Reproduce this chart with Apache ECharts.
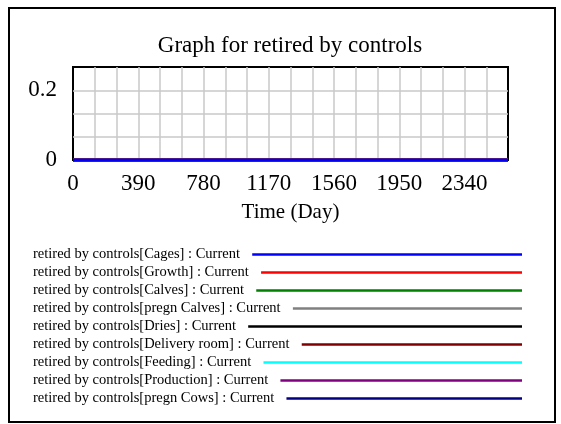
<!DOCTYPE html>
<html>
<head>
<meta charset="utf-8">
<script src="https://cdn.jsdelivr.net/npm/echarts@6/dist/echarts.min.js"></script>
<style>
html,body{margin:0;padding:0;background:#fff;}
#chart{width:561px;height:424px;}
</style>
</head>
<body>
<div id="chart"></div>
<script>
// ---- data ----
const chartTitle = 'Graph for retired by controls';
const xAxisName = 'Time (Day)';
const timeDays = [0, 260, 520, 780, 1040, 1300, 1560, 1820, 2080, 2340, 2600];
const seriesNames = [
  'retired by controls[Cages] : Current',
  'retired by controls[Growth] : Current',
  'retired by controls[Calves] : Current',
  'retired by controls[pregn Calves] : Current',
  'retired by controls[Dries] : Current',
  'retired by controls[Delivery room] : Current',
  'retired by controls[Feeding] : Current',
  'retired by controls[Production] : Current',
  'retired by controls[pregn Cows] : Current'
];
const cagesValues        = [0, 0, 0, 0, 0, 0, 0, 0, 0, 0, 0];
const growthValues       = [0, 0, 0, 0, 0, 0, 0, 0, 0, 0, 0];
const calvesValues       = [0, 0, 0, 0, 0, 0, 0, 0, 0, 0, 0];
const pregnCalvesValues  = [0, 0, 0, 0, 0, 0, 0, 0, 0, 0, 0];
const driesValues        = [0, 0, 0, 0, 0, 0, 0, 0, 0, 0, 0];
const deliveryRoomValues = [0, 0, 0, 0, 0, 0, 0, 0, 0, 0, 0];
const feedingValues      = [0, 0, 0, 0, 0, 0, 0, 0, 0, 0, 0];
const productionValues   = [0, 0, 0, 0, 0, 0, 0, 0, 0, 0, 0];
const pregnCowsValues    = [0, 0, 0, 0, 0, 0, 0, 0, 0, 0, 0];
const seriesValues = [cagesValues, growthValues, calvesValues, pregnCalvesValues,
  driesValues, deliveryRoomValues, feedingValues, productionValues, pregnCowsValues];
const seriesColors = ['#0000ff', '#ff0000', '#008000', '#808080', '#000000',
  '#800000', '#00ffff', '#800080', '#000080'];
const xTickLabels = ['0', '390', '780', '1170', '1560', '1950', '2340'];
const yTickLabels = ['0', '0.2'];

// ---- layout / style ----
const FONT = '"Liberation Serif", "Times New Roman", serif';
const gridL = 73, gridT = 67, gridW = 435, gridH = 93;
const legendLeft = 33, legendRight = 522, legendTop0 = 254, legendStep = 18;
const legendFontSize = 14.5;

const ctx = document.createElement('canvas').getContext('2d');
ctx.font = legendFontSize + 'px ' + FONT;
const gapText = '  ';

const legends = seriesNames.map((name, i) => {
  const textW = ctx.measureText(name + gapText).width;
  return {
    data: [name],
    left: legendLeft,
    top: legendTop0 + i * legendStep - 7,
    align: 'right',
    orient: 'horizontal',
    padding: 0,
    itemGap: 0,
    selectedMode: false,
    icon: 'rect',
    itemWidth: Math.max(10, legendRight - (legendLeft + textW + 5)),
    itemHeight: 2.5,
    formatter: n => n + gapText,
    textStyle: { fontFamily: FONT, fontSize: legendFontSize, color: '#000' }
  };
});

const series = seriesNames.map((name, i) => ({
  name: name,
  type: 'line',
  data: timeDays.map((t, k) => [t, seriesValues[i][k]]),
  showSymbol: false,
  symbol: 'none',
  clip: false,
  z: 20 - i,
  lineStyle: { color: seriesColors[i], width: 3 },
  itemStyle: { color: seriesColors[i] },
  animation: false
}));

const chart = echarts.init(document.getElementById('chart'), null, { renderer: 'canvas' });
chart.setOption({
  animation: false,
  backgroundColor: '#fff',
  title: {
    text: chartTitle,
    left: 285, top: 29, textAlign: 'center',
    textStyle: { fontFamily: FONT, fontSize: 23, fontWeight: 'normal', color: '#000' }
  },
  graphic: [{
    type: 'rect',
    shape: { x: 9, y: 8, width: 546, height: 414 },
    style: { fill: null, stroke: '#000', lineWidth: 2 },
    z: 100, silent: true
  }],
  grid: {
    left: gridL, top: gridT, width: gridW, height: gridH,
    show: true, borderColor: '#000', borderWidth: 2, backgroundColor: '#fff'
  },
  legend: legends,
  xAxis: {
    type: 'value', min: 0, max: 2600, interval: 130,
    name: xAxisName, nameLocation: 'middle', nameGap: 42,
    nameTextStyle: { fontFamily: FONT, fontSize: 21, color: '#000' },
    axisLine: { show: false }, axisTick: { show: false },
    axisLabel: {
      fontFamily: FONT, fontSize: 23, color: '#000', margin: 12,
      showMaxLabel: false,
      formatter: v => { const s = String(Math.round(v)); return xTickLabels.indexOf(s) >= 0 ? s : ''; }
    },
    splitLine: { show: true, showMinLine: false, showMaxLine: false,
      lineStyle: { color: '#c8c8c8', width: 1.5 } }
  },
  yAxis: {
    type: 'value', min: 0, max: 4 / 15, interval: 1 / 15,
    axisLine: { show: false }, axisTick: { show: false },
    axisLabel: {
      fontFamily: FONT, fontSize: 23, color: '#000', margin: 16,
      padding: [0, 0, 7, 0],
      formatter: v => {
        const s = String(Math.round(v * 1000) / 1000);
        return yTickLabels.indexOf(s) >= 0 ? s : '';
      }
    },
    splitLine: { show: true, showMinLine: false, showMaxLine: false,
      lineStyle: { color: '#c8c8c8', width: 1.5 } }
  },
  series: series
});
</script>
</body>
</html>
